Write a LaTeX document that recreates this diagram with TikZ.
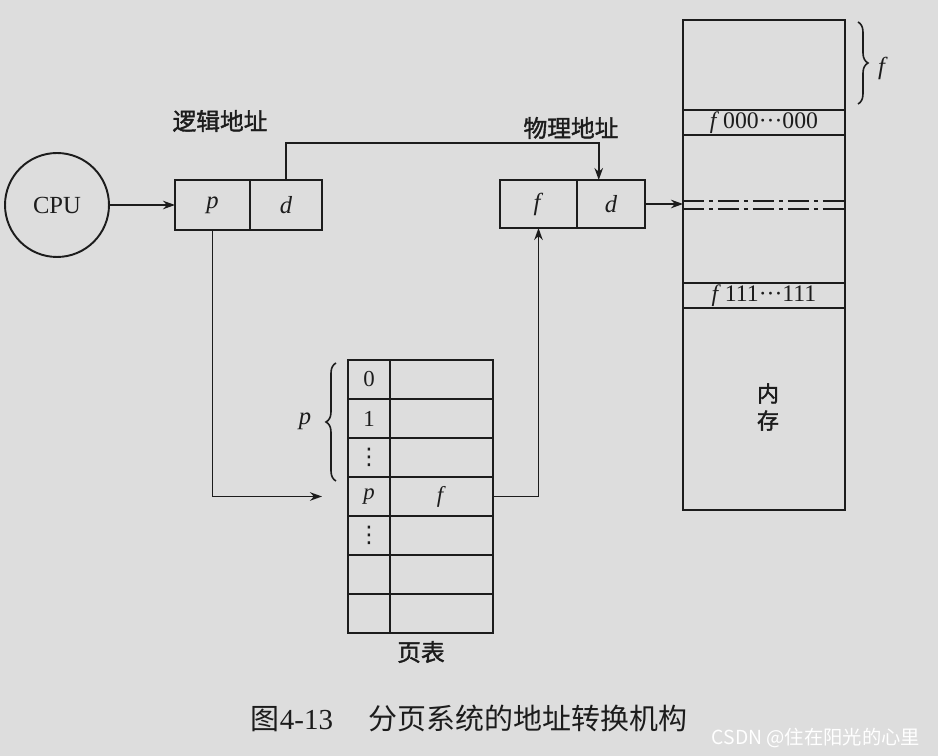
\documentclass[tikz,border=0pt]{standalone}
\usepackage{fontspec}
\setmainfont{Liberation Serif}
\newfontfamily\cjk{Noto Sans CJK SC}
\newfontfamily\cjkb[FakeBold=1.6]{Noto Sans CJK SC}
\newfontfamily\symf{DejaVu Sans}
\usepackage{tikz}
\usetikzlibrary{arrows.meta,positioning,calc,decorations.pathreplacing}
\definecolor{Paper}{HTML}{DDDDDD}
\definecolor{Ink}{HTML}{1C1C1C}

\begin{document}
\begin{tikzpicture}[
    x=0.02cm, y=-0.02cm,
    font=\fontsize{14}{16}\selectfont, text=Ink,
    cell/.style={draw=Ink, line width=1.1pt, outer sep=0pt, minimum height=1cm, inner sep=0pt},
    ptcell/.style={draw=Ink, line width=1.1pt, outer sep=0pt, minimum height=0.78cm, inner sep=0pt, font=\fontsize{13}{14}\selectfont},
    memrow/.style={draw=Ink, line width=1.1pt, minimum width=3.24cm, minimum height=0.5cm, inner sep=0pt, font=\fontsize{13.5}{15}\selectfont},
    lbl/.style={font=\cjkb\fontsize{13.5}{15}\selectfont},
    arr/.style={-{Stealth[length=2.4mm,width=1.7mm]}, draw=Ink, line width=1.1pt},
    gapline/.style={draw=Ink, line width=1.1pt, dash pattern=on 0.42cm off 0.1cm on 0.08cm off 0.1cm},
    brc/.style={draw=Ink, line width=0.9pt, decorate, decoration={brace, amplitude=0.2cm}}
]
% 背景与画布大小
\fill[Paper] (0,0) rectangle (938,756);
\useasboundingbox (0,0) rectangle (938,756);

% CPU 与逻辑地址
\node[cell, circle, outer sep=0.55pt, minimum size=2.08cm] (cpu) at (57,205) {CPU};
\node[cell, minimum width=1.5cm] (lp) at (212.5,205) {\textit{p}};
\node[cell, minimum width=1.44cm, anchor=west] (ld) at (lp.east) {\textit{d}};
\node[lbl] (laddr) at (220,121) {逻辑地址};

% 物理地址
\node[cell, minimum width=1.54cm, minimum height=0.96cm] (pf) at (538.5,204) {\textit{f}};
\node[cell, minimum width=1.36cm, minimum height=0.96cm, anchor=west] (pd) at (pf.east) {\textit{d}};
\node[lbl] (paddr) at (571,128) {物理地址};

% 页表：7 行
\foreach \k/\idx/\frm in {1/0/,2/1/,3/{\symf ⋮}/,4/\textit{p}/\textit{f},5/{\symf ⋮}/,6//,7//}{
    \node[ptcell, minimum width=0.84cm] (ptk\k) at (369,{360+39*(\k-0.5)}) {\idx};
    \node[ptcell, minimum width=2.06cm, anchor=west] (ptv\k) at (ptk\k.east) {\frm};
}
\node[lbl] (ptname) at (421,652) {页表};
\draw[brc] (336,481) -- (336,363);
\node (plbl) at (305,421) {\textit{p}};

% 内存
\node[cell, minimum width=3.24cm, minimum height=9.8cm] (mem) at (764,265) {};
\node[memrow] (mlo) at (764,122.5) {\textit{f}\,000···000};
\node[memrow] (mhi) at (764,295.5) {\textit{f}\,111···111};
\node[font=\cjkb\fontsize{12.5}{15.4}\selectfont, align=center] (memname) at (768,407) {内\\存};
\draw[brc] (858,22) -- (858,104);
\node (flbl) at (883,68) {\textit{f}};

% 内存中的断开线
\coordinate (g1) at (683,201);
\coordinate (g2) at (683,209);
\draw[gapline] (g1) -- (g1 -| mem.east);
\draw[gapline] (g2) -- (g2 -| mem.east);

% 连接线
\coordinate (pdin) at ($(pd.north west)!0.32!(pd.north east)$);
\coordinate (pin) at ([xshift=-0.52cm]ptk4.west);
\draw[arr] (cpu) -- (lp);
\draw[arr] (ld.north) -- ++(0,-37) coordinate (dtop) -- (dtop -| pdin) -- (pdin);
\draw[arr] (lp.south) |- (pin);
\draw[arr] (ptv4.east) -| (pf.south);
\draw[arr] (pd.east) -- (pd.east -| mem.west);

% 图题
\node[font=\fontsize{16.5}{18}\selectfont] (cap) at (469,718) {{\cjk 图}4-13\hspace{0.7cm}{\cjk 分页系统的地址转换机构}};
\node[font=\cjk\fontsize{11}{13}\selectfont, text=white] (wm) at (816,738) {CSDN @住在阳光的心里};
\end{tikzpicture}
\end{document}
